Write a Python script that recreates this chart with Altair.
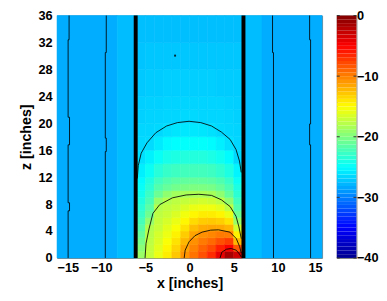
import altair as alt
import pandas as pd
import numpy as np

# ---------------- data ----------------
X_TICKS = [-15, -10, -5, 0, 5, 10, 15]
Z_TICKS = [0, 4, 8, 12, 16, 20, 24, 28, 32, 36]
CB_TICKS = [0, -10, -20, -30, -40]

# channel cells (between the two walls), 1-inch columns
col_x = [-5.5, -4.5, -3.5, -2.5, -1.5, -0.5, 0.5, 1.5, 2.5, 3.5, 4.5, 5.5]
z_edges = [0, 1, 2, 3, 4, 5, 6, 7, 8, 9, 10, 11, 12, 14, 16, 18, 20, 22, 24, 28, 32, 36]
field = [
    [-19.0, -19.6, -20.3, -21.0, -21.6, -22.2, -22.8, -23.3, -23.8, -24.3, -24.7, -25.1, -25.6, -26.2, -26.5, -26.6, -26.8, -26.9, -27.1, -27.3, -27.5],
    [-17.3, -17.4, -17.6, -17.8, -18.0, -19.3, -20.6, -21.4, -22.1, -22.7, -23.3, -23.8, -24.6, -25.5, -26.4, -26.6, -26.7, -26.8, -27.0, -27.2, -27.5],
    [-15.8, -16.1, -16.4, -16.7, -17.1, -17.3, -17.6, -17.9, -19.0, -20.8, -21.7, -22.5, -23.5, -24.7, -25.8, -26.5, -26.7, -26.8, -27.0, -27.2, -27.5],
    [-14.3, -14.7, -15.2, -15.7, -16.1, -16.6, -17.1, -17.5, -18.0, -19.4, -21.0, -21.8, -22.9, -24.1, -25.2, -26.2, -26.6, -26.7, -26.9, -27.2, -27.5],
    [-12.8, -13.3, -13.9, -14.5, -15.2, -15.8, -16.4, -17.1, -17.6, -18.6, -20.5, -21.4, -22.6, -23.9, -25.0, -26.0, -26.6, -26.7, -26.9, -27.2, -27.5],
    [-10.8, -11.4, -12.2, -13.0, -13.9, -14.7, -15.5, -16.4, -17.3, -18.4, -20.2, -21.2, -22.4, -23.7, -24.9, -25.9, -26.5, -26.7, -26.9, -27.2, -27.5],
    [-9.5, -10.1, -10.7, -11.4, -12.4, -13.6, -14.7, -15.8, -17.0, -18.3, -20.1, -21.1, -22.4, -23.7, -24.9, -25.9, -26.5, -26.7, -26.9, -27.2, -27.5],
    [-8.1, -8.9, -9.8, -10.7, -11.7, -13.0, -14.3, -15.6, -16.8, -18.3, -20.1, -21.2, -22.4, -23.7, -24.9, -26.0, -26.6, -26.7, -26.9, -27.2, -27.5],
    [-6.7, -7.9, -9.1, -10.3, -11.5, -12.9, -14.3, -15.6, -17.0, -18.5, -20.3, -21.4, -22.6, -24.0, -25.1, -26.2, -26.6, -26.7, -26.9, -27.2, -27.5],
    [-4.1, -6.2, -8.1, -9.8, -11.6, -13.1, -14.6, -16.1, -17.6, -19.4, -21.0, -21.9, -23.1, -24.4, -25.6, -26.5, -26.6, -26.7, -27.0, -27.2, -27.5],
    [-1.5, -4.8, -7.4, -9.9, -12.1, -13.9, -15.8, -17.6, -19.4, -21.1, -22.0, -22.8, -23.9, -25.1, -26.2, -26.6, -26.7, -26.8, -27.0, -27.2, -27.5],
    [-3.2, -8.4, -12.2, -14.5, -16.8, -19.0, -20.7, -21.7, -22.5, -23.3, -23.9, -24.6, -25.4, -26.5, -26.6, -26.7, -26.8, -26.9, -27.0, -27.2, -27.5],
]

# outside the channel: bands that are uniform in z
out_x0 = [-15, -8.2, 6, 8.2]
out_x1 = [-8.2, -6, 8.2, 15]
out_v = [-28.2, -27.6, -27.6, -28.2]

# walls (thick black lines)
walls = [-6.1, 6.1]

# contour polylines
c_outer_x = [-5.92, -5.81, -5.48, -4.82, -3.82, -2.60, -1.38, -0.06, 1.27, 2.49, 3.60, 4.59, 5.26, 5.65, 5.85]
c_outer_z = [11.8, 13.7, 15.55, 17.1, 18.6, 19.6, 20.1, 20.3, 20.1, 19.6, 18.7, 17.6, 16.1, 14.4, 12.7]
c2_x = [-5.04, -4.93, -4.59, -4.15, -3.38, -1.94, -0.39, 1.05, 2.49, 3.60, 4.59, 5.26, 5.59, 5.85]
c2_z = [0, 2.16, 4.32, 6.62, 7.92, 8.93, 9.36, 9.46, 9.29, 8.64, 7.63, 6.19, 4.61, 2.88]
c3_x = [-0.61, -0.50, -0.06, 0.61, 1.42, 2.38, 3.27, 4.56, 5.29, 5.67, 5.85]
c3_z = [0, 1.15, 2.40, 3.31, 3.84, 4.13, 4.18, 3.84, 2.88, 1.68, 0.72]
c4_x = [3.45, 3.65, 4.18, 4.71, 5.29, 5.65, 5.85]
c4_z = [0, 0.86, 1.30, 1.40, 1.15, 0.58, 0.14]
cA_x = [-13.64, -13.64, -13.75, -13.75, -13.59, -13.59, -13.75, -13.75, -13.59, -13.59, -13.75, -13.75]
cA_z = [36, 32.4, 32.4, 20.9, 20.9, 16.8, 16.8, 8.2, 8.2, 7.0, 7.0, 0]
cB_x = [-9.43, -9.43, -9.54, -9.54, -9.43, -9.43, -9.54, -9.54]
cB_z = [36, 30.5, 30.5, 17.8, 17.8, 15.8, 15.8, 0]
cC_x = [9.39, 9.39, 9.50, 9.50]
cC_z = [36, 30.5, 30.5, 0]
cD_x = [13.59, 13.59, 13.70, 13.70, 13.59, 13.59, 13.70, 13.70]
cD_z = [36, 32.4, 32.4, 19.9, 19.9, 16.8, 16.8, 0]
dot_x = [-1.64]
dot_z = [30.05]

# ---------------- tables ----------------
rows = []
for cx, vals in zip(col_x, field):
    for j, v in enumerate(vals):
        rows.append(dict(x=cx - 0.5, x2=cx + 0.5, z=z_edges[j], z2=z_edges[j + 1], v=v))
for a, b, v in zip(out_x0, out_x1, out_v):
    rows.append(dict(x=a, x2=b, z=0, z2=36, v=v))
cells = pd.DataFrame(rows)

lines = []
for name, xs_, zs_ in [("outer", c_outer_x, c_outer_z), ("c2", c2_x, c2_z), ("c3", c3_x, c3_z),
                       ("c4", c4_x, c4_z), ("A", cA_x, cA_z), ("B", cB_x, cB_z),
                       ("C", cC_x, cC_z), ("D", cD_x, cD_z)]:
    for k, (xx, zz) in enumerate(zip(xs_, zs_)):
        lines.append(dict(id=name, k=k, x=xx, z=zz))
lines = pd.DataFrame(lines)

FONT = "Liberation Sans"
cdom = [-40, -35, -25, -15, -5, 0]
crng = ["#00008f", "#0000ff", "#00ffff", "#ffff00", "#ff0000", "#800000"]
cscale = alt.Scale(domain=cdom, range=crng, interpolate="rgb")

xs = alt.Scale(domain=[-15, 15], nice=False, zero=False)
zs = alt.Scale(domain=[0, 36], nice=False, zero=False)

def xaxis():
    return alt.Axis(values=X_TICKS, title="x [inches]", grid=False, ticks=False, domain=False,
                    labelPadding=4, titlePadding=2, format="d", labelOverlap=False)

def yaxis():
    return alt.Axis(values=Z_TICKS, title="z [inches]", grid=False, ticks=False, domain=False,
                    labelPadding=5, titlePadding=5, format="d", labelOverlap=False)

heat = alt.Chart(cells).mark_rect(strokeWidth=0.6).encode(
    x=alt.X("x:Q", scale=xs, axis=xaxis()),
    x2="x2:Q",
    y=alt.Y("z:Q", scale=zs, axis=yaxis()),
    y2="z2:Q",
    color=alt.Color("v:Q", scale=cscale, legend=None),
    stroke=alt.Stroke("v:Q", scale=cscale, legend=None),
)

contours = alt.Chart(lines).mark_line(color="black", strokeWidth=1, opacity=0.85).encode(
    x=alt.X("x:Q", scale=xs, axis=xaxis()),
    y=alt.Y("z:Q", scale=zs, axis=yaxis()),
    detail="id:N",
    order="k:Q",
)

dot = alt.Chart(pd.DataFrame({"x": dot_x, "z": dot_z})).mark_square(color="black", size=4, opacity=0.8).encode(
    x=alt.X("x:Q", scale=xs, axis=xaxis()), y=alt.Y("z:Q", scale=zs, axis=yaxis())
)

wall = alt.Chart(pd.DataFrame({"w": walls})).mark_rule(color="black", strokeWidth=4).encode(
    x=alt.X("w:Q", scale=xs, axis=xaxis())
)

main = alt.layer(heat, contours, dot, wall).properties(width=270, height=247)

# ---------------- colorbar ----------------
def cbaxis():
    return alt.Axis(orient="right", values=CB_TICKS, title=None, grid=False, ticks=False,
                    domain=False, labelPadding=0, format="d", labelOverlap=False)

edges = np.linspace(-40, 0, 65)
cb = pd.DataFrame({"lo": edges[:-1], "hi": edges[1:], "v": (edges[:-1] + edges[1:]) / 2})
cbs = alt.Scale(domain=[-40, 0], nice=False, zero=False)
cbar = alt.Chart(cb).mark_rect().encode(
    y=alt.Y("lo:Q", scale=cbs, axis=cbaxis()),
    y2="hi:Q",
    x=alt.value(0), x2=alt.value(20),
    color=alt.Color("v:Q", scale=cscale, legend=None),
)
tk = pd.DataFrame({"t": CB_TICKS})
cbt1 = alt.Chart(tk).mark_rule(color="#333333", strokeWidth=1).encode(
    y=alt.Y("t:Q", scale=cbs, axis=cbaxis()), x=alt.value(0), x2=alt.value(3))
cbt2 = alt.Chart(tk).mark_rule(color="#333333", strokeWidth=1).encode(
    y=alt.Y("t:Q", scale=cbs, axis=cbaxis()), x=alt.value(17), x2=alt.value(20))
cbarc = alt.layer(cbar, cbt1, cbt2).properties(width=20, height=247)

chart = alt.hconcat(main, cbarc, spacing=15, bounds="flush").resolve_scale(color="shared").properties(
    padding={"left": 10, "top": -2, "right": 0, "bottom": 0}
).configure_view(stroke="#808080", strokeWidth=1).configure_axis(
    labelFont=FONT, labelFontWeight="bold", labelFontSize=13, labelColor="black",
    titleFont=FONT, titleFontWeight="bold", titleFontSize=14.5, titleColor="black",
    labelOverlap=False,
)

chart.save("out.html", embed_options={"renderer": "svg", "actions": False})
